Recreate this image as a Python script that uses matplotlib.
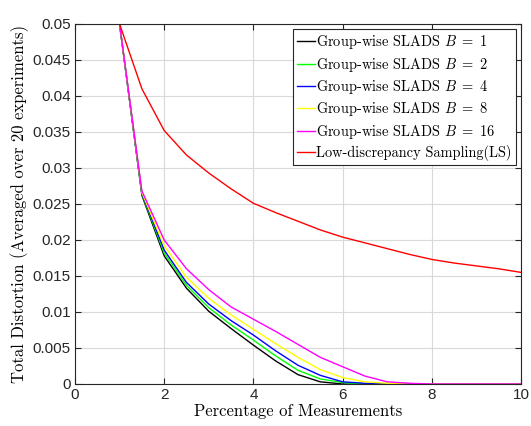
import matplotlib
matplotlib.use("Agg")
import matplotlib.pyplot as plt

# Data
x = [1, 1.5, 2, 2.5, 3, 3.5, 4, 4.5, 5, 5.5, 6, 6.5, 7, 7.5, 8, 8.5, 9, 9.5, 10]

b1 = [0.05, 0.0262, 0.0178, 0.0133, 0.0101, 0.0077, 0.0054, 0.0032, 0.0013, 0.0003,
      0.0, 0.0, 0.0, 0.0, 0.0, 0.0, 0.0, 0.0, 0.0]
b2 = [0.05, 0.0264, 0.0182, 0.0137, 0.0106, 0.0082, 0.0061, 0.0039, 0.0019, 0.0007,
      0.0002, 0.0, 0.0, 0.0, 0.0, 0.0, 0.0, 0.0, 0.0]
b4 = [0.05, 0.0265, 0.0186, 0.0141, 0.0111, 0.0088, 0.0068, 0.0046, 0.0026, 0.0012,
      0.0003, 0.0001, 0.0, 0.0, 0.0, 0.0, 0.0, 0.0, 0.0]
b8 = [0.05, 0.0266, 0.0192, 0.0148, 0.0119, 0.0096, 0.0076, 0.0056, 0.0037, 0.0020,
      0.0009, 0.0003, 0.0001, 0.0, 0.0, 0.0, 0.0, 0.0, 0.0]
b16 = [0.05, 0.0268, 0.0200, 0.0160, 0.0131, 0.0107, 0.0090, 0.0073, 0.0055, 0.0037,
       0.0024, 0.0011, 0.0003, 0.0001, 0.0, 0.0, 0.0, 0.0, 0.0]
ls = [0.05, 0.0410, 0.0352, 0.0318, 0.0293, 0.0271, 0.0251, 0.0238, 0.0226, 0.0214,
      0.0204, 0.0196, 0.0188, 0.0180, 0.0173, 0.0168, 0.0164, 0.0160, 0.0155]

series = [b1, b2, b4, b8, b16, ls]
labels = ["Group-wise SLADS $B\\ =\\ 1$", "Group-wise SLADS $B\\ =\\ 2$",
          "Group-wise SLADS $B\\ =\\ 4$", "Group-wise SLADS $B\\ =\\ 8$",
          "Group-wise SLADS $B\\ =\\ 16$", "Low-discrepancy Sampling(LS)"]
colors = ["#000000", "#00ff00", "#0000ff", "#ffff00", "#ff00ff", "#ff0000"]

plt.rcParams["font.family"] = "cmr10"
plt.rcParams["mathtext.fontset"] = "cm"
plt.rcParams["axes.formatter.use_mathtext"] = True

fig = plt.figure(figsize=(5.31, 4.26), dpi=100)
ax = fig.add_axes([0.1412, 0.0986, 0.84, 0.8451])

for y, lab, c in zip(series, labels, colors):
    ax.plot(x, y, color=c, lw=1.0, label=lab)

ax.set_xlim(0, 10)
ax.set_ylim(0, 0.05)
ax.set_xticks([0, 2, 4, 6, 8, 10])
ax.set_yticks([i * 0.005 for i in range(11)])
ax.set_yticklabels(["0", "0.005", "0.01", "0.015", "0.02", "0.025", "0.03",
                    "0.035", "0.04", "0.045", "0.05"])
ax.set_xticklabels(["0", "2", "4", "6", "8", "10"])
for t in ax.get_xticklabels() + ax.get_yticklabels():
    t.set_fontfamily("Liberation Sans")
    t.set_fontsize(11)
    t.set_color("#262626")

ax.grid(True, color="#d9d9d9", lw=0.8)
ax.tick_params(direction="in", top=True, right=True, length=4, color="#262626", pad=3)
for s in ax.spines.values():
    s.set_color("#262626")
    s.set_linewidth(0.8)

ax.set_xlabel("Percentage of Measurements", fontsize=12, labelpad=1)
ax.set_ylabel("Total Distortion (Averaged over 20 experiments)", fontsize=12, labelpad=3)

leg = ax.legend(loc="upper right", fontsize=10.4, handlelength=1.2, handletextpad=0.1,
                borderpad=0.3, labelspacing=0.3, fancybox=False, framealpha=1,
                borderaxespad=0.35)
leg.get_frame().set_edgecolor("#262626")
leg.get_frame().set_linewidth(0.8)

fig.savefig("out.png", dpi=100)
